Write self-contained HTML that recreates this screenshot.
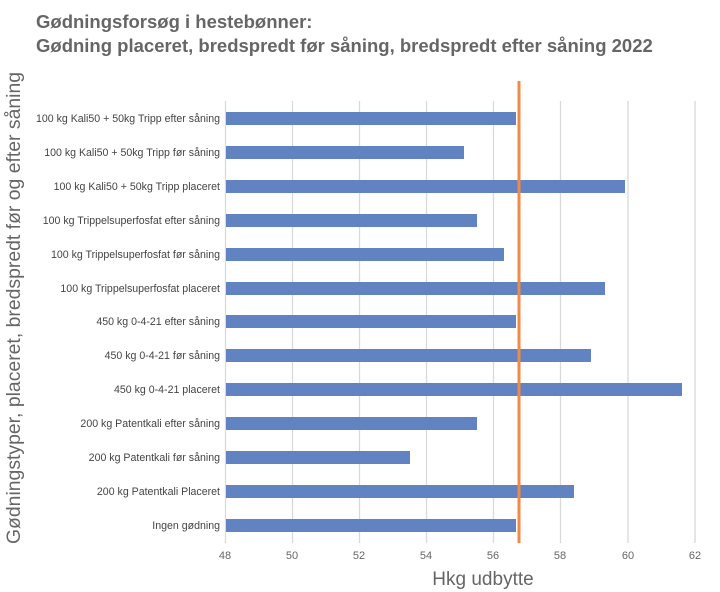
<!DOCTYPE html>
<html><head><meta charset="utf-8"><style>
body{margin:0;background:#fff;}
svg{display:block;font-family:"Liberation Sans",Arial,sans-serif;}
</style></head><body>
<svg width="720" height="592" viewBox="0 0 720 592">
<text x="36" y="28" font-size="18.5" font-weight="bold" fill="#666">Gødningsforsøg i hestebønner:</text>
<text x="36" y="52" font-size="18.5" font-weight="bold" fill="#666">Gødning placeret, bredspredt før såning, bredspredt efter såning 2022</text>
<g stroke="#d9d9d9" stroke-width="1.3">
<line x1="225.5" y1="101" x2="225.5" y2="543"/>
<line x1="292.5" y1="101" x2="292.5" y2="543"/>
<line x1="359.5" y1="101" x2="359.5" y2="543"/>
<line x1="426.5" y1="101" x2="426.5" y2="543"/>
<line x1="493.5" y1="101" x2="493.5" y2="543"/>
<line x1="560.5" y1="101" x2="560.5" y2="543"/>
<line x1="628" y1="101" x2="628" y2="543"/>
<line x1="695" y1="101" x2="695" y2="543"/>
</g>
<g fill="#6283c1">
<rect x="226" y="112" width="290" height="13"/>
<rect x="226" y="146" width="238" height="13"/>
<rect x="226" y="180" width="399" height="13"/>
<rect x="226" y="214" width="251" height="13"/>
<rect x="226" y="248" width="278" height="13"/>
<rect x="226" y="282" width="379" height="13"/>
<rect x="226" y="315" width="290" height="13"/>
<rect x="226" y="349" width="365" height="13"/>
<rect x="226" y="383" width="456" height="13"/>
<rect x="226" y="417" width="251" height="13"/>
<rect x="226" y="451" width="184" height="13"/>
<rect x="226" y="485" width="348" height="13"/>
<rect x="226" y="519" width="290" height="13"/>
</g>
<line x1="519" y1="81" x2="519" y2="543" stroke="#f08a45" stroke-width="3"/>
<g font-size="10.6" fill="#444" text-anchor="end">
<text x="220" y="122">100 kg Kali50 + 50kg Tripp efter såning</text>
<text x="220" y="156">100 kg Kali50 + 50kg Tripp før såning</text>
<text x="220" y="190">100 kg Kali50 + 50kg Tripp placeret</text>
<text x="220" y="224">100 kg Trippelsuperfosfat efter såning</text>
<text x="220" y="258">100 kg Trippelsuperfosfat før såning</text>
<text x="220" y="292">100 kg Trippelsuperfosfat placeret</text>
<text x="220" y="325">450 kg 0-4-21 efter såning</text>
<text x="220" y="359">450 kg 0-4-21 før såning</text>
<text x="220" y="393">450 kg 0-4-21 placeret</text>
<text x="220" y="427">200 kg Patentkali efter såning</text>
<text x="220" y="461">200 kg Patentkali før såning</text>
<text x="220" y="495">200 kg Patentkali Placeret</text>
<text x="220" y="529">Ingen gødning</text>
</g>
<g font-size="11" fill="#666" text-anchor="middle">
<text x="225" y="559">48</text><text x="292" y="559">50</text><text x="359" y="559">52</text>
<text x="426" y="559">54</text><text x="493" y="559">56</text><text x="560" y="559">58</text>
<text x="628" y="559">60</text><text x="695" y="559">62</text>
</g>
<text x="483" y="585" font-size="19" fill="#666" text-anchor="middle">Hkg udbytte</text>
<text transform="translate(20,308) rotate(-90)" font-size="19.4" fill="#666" text-anchor="middle">Gødningstyper, placeret, bredspredt før og efter såning</text>
</svg>
</body></html>
